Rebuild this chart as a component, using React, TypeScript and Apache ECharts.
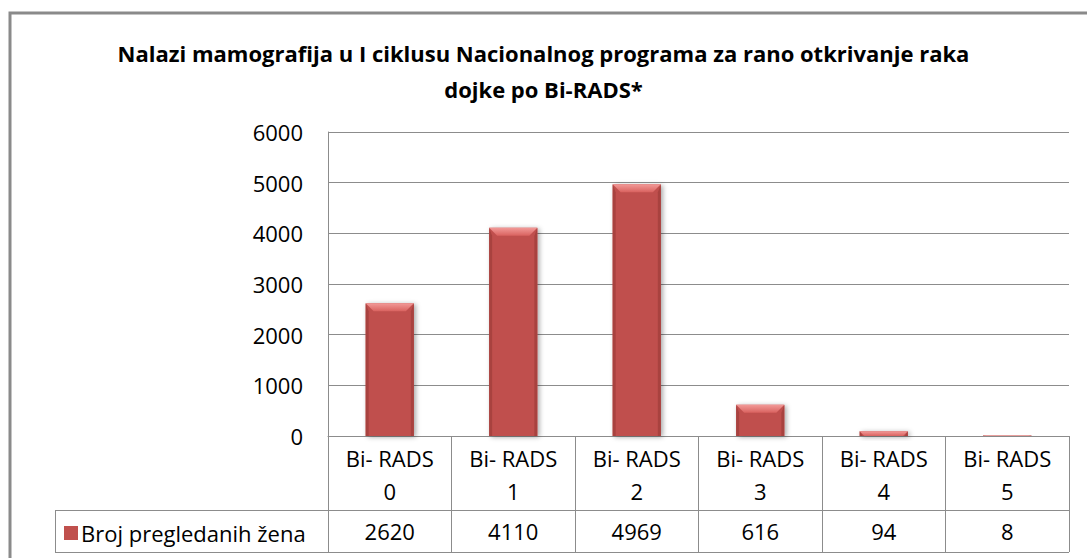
import React, { useEffect, useRef } from "react";
import * as echarts from "echarts";

const titleText = "Nalazi mamografija u I ciklusu Nacionalnog programa za rano otkrivanje raka\ndojke po Bi-RADS*";
const categories = ["Bi- RADS\n0", "Bi- RADS\n1", "Bi- RADS\n2", "Bi- RADS\n3", "Bi- RADS\n4", "Bi- RADS\n5"];
const seriesName = "Broj pregledanih žena";
const values = [2620, 4110, 4969, 616, 94, 8];
const yTicks = [0, 1000, 2000, 3000, 4000, 5000, 6000];

const FONT = "'Open Sans', 'Noto Sans', sans-serif";
const LINE = "#8c8c8c";
const BAR = "#C0504D";

export default function App() {
  const ref = useRef<HTMLDivElement>(null);
  useEffect(() => {
    if (!ref.current) return;
    const chart = echarts.init(ref.current, null, { renderer: "svg" });
    const W = 1087;
    const H = 558;
    const gridLeft = 328;
    const gridRight = 18;
    const gridTop = 132;
    const gridBottom = 122;
    const axisY = H - gridBottom; // 436
    const row2Y = 510;
    const tableBottom = 552;
    const legendLeft = 55;

    const renderItem = (params: any, api: any) => {
      const idx = api.value(0);
      const val = api.value(1);
      const top = api.coord([idx, val]);
      const base = api.coord([idx, 0]);
      const bw = api.size([1, 0])[0] * 0.39;
      const l = top[0] - bw / 2;
      const r = top[0] + bw / 2;
      const t = top[1];
      const b = base[1];
      const h = Math.max(b - t, 0);
      const bev = Math.min(8, h);
      const side = Math.min(3, bw / 2);
      return {
        type: "group",
        children: [
          {
            type: "rect",
            shape: { x: l, y: t, width: bw, height: h },
            style: {
              fill: BAR,
              shadowBlur: 5,
              shadowOffsetX: 2,
              shadowOffsetY: 1,
              shadowColor: "rgba(0,0,0,0.35)",
            },
          },
          {
            type: "polygon",
            shape: { points: [[l, t], [l + side, t + bev], [l + side, b], [l, b]] },
            style: { fill: "#A8423F" },
          },
          {
            type: "polygon",
            shape: { points: [[r, t], [r - side, t + bev], [r - side, b], [r, b]] },
            style: { fill: "#A8423F" },
          },
          {
            type: "polygon",
            shape: { points: [[l, t], [r, t], [r - bev, t + bev], [l + bev, t + bev]] },
            style: {
              fill: new echarts.graphic.LinearGradient(0, 0, 0, 1, [
                { offset: 0, color: "#F29A98" },
                { offset: 1, color: "#D9625F" },
              ]),
            },
          },
        ],
      };
    };

    chart.setOption({
      animation: false,
      color: [BAR],
      textStyle: { fontFamily: FONT },
      title: {
        text: titleText,
        left: "center",
        top: 30,
        textStyle: {
          fontFamily: FONT,
          fontWeight: "bold",
          fontSize: 22,
          lineHeight: 36,
          color: "#000",
        },
      },
      grid: { left: gridLeft, right: gridRight, top: gridTop, bottom: gridBottom, containLabel: false },
      legend: {
        left: 64,
        top: 522,
        padding: 0,
        itemWidth: 14,
        itemHeight: 14,
        itemGap: 8,
        icon: "rect",
        selectedMode: false,
        data: [seriesName],
        textStyle: { fontFamily: FONT, fontSize: 22, color: "#000", padding: [0, 0, 0, -2] },
      },
      xAxis: [
        {
          type: "category",
          data: categories,
          position: "bottom",
          boundaryGap: true,
          axisLine: { show: true, lineStyle: { color: LINE, width: 1 } },
          axisTick: { show: true, interval: 0, alignWithLabel: false, length: tableBottom - axisY, lineStyle: { color: LINE } },
          axisLabel: {
            interval: 0,
            margin: 5,
            fontFamily: FONT,
            fontSize: 22,
            lineHeight: 33,
            color: "#000",
            align: "center",
          },
          splitLine: { show: false },
        },
        {
          type: "category",
          data: values.map((v) => String(v)),
          position: "bottom",
          offset: row2Y - axisY,
          boundaryGap: true,
          axisLine: { show: true, lineStyle: { color: LINE, width: 1 } },
          axisTick: { show: true, interval: 0, alignWithLabel: false, length: tableBottom - row2Y, lineStyle: { color: LINE } },
          axisLabel: {
            interval: 0,
            margin: 9,
            fontFamily: FONT,
            fontSize: 22,
            lineHeight: 24,
            color: "#000",
          },
          splitLine: { show: false },
        },
      ],
      yAxis: {
        type: "value",
        min: yTicks[0],
        max: yTicks[yTicks.length - 1],
        interval: 1000,
        axisLine: { show: true, lineStyle: { color: LINE, width: 1 } },
        axisTick: { show: false },
        axisLabel: {
          margin: 25,
          fontFamily: FONT,
          fontSize: 22,
          color: "#000",
          formatter: (v: number) => String(v),
        },
        splitLine: { show: true, lineStyle: { color: LINE, width: 1 } },
      },
      series: [
        {
          name: seriesName,
          type: "custom",
          xAxisIndex: 0,
          yAxisIndex: 0,
          renderItem,
          encode: { x: 0, y: 1 },
          itemStyle: { color: BAR },
          data: values.map((v, i) => [i, v]),
          z: 3,
        },
      ],
      graphic: [
        {
          type: "rect",
          shape: { x: 10, y: 13, width: W + 40, height: H + 40 },
          style: { fill: "none", stroke: "#8a8a8a", lineWidth: 3 },
          silent: true,
        },
        {
          type: "line",
          shape: { x1: legendLeft, y1: row2Y + 0.5, x2: gridLeft, y2: row2Y + 0.5 },
          style: { stroke: LINE, lineWidth: 1 },
          silent: true,
        },
        {
          type: "line",
          shape: { x1: legendLeft, y1: tableBottom + 0.5, x2: W - gridRight, y2: tableBottom + 0.5 },
          style: { stroke: LINE, lineWidth: 1 },
          silent: true,
        },
        {
          type: "line",
          shape: { x1: legendLeft + 0.5, y1: row2Y, x2: legendLeft + 0.5, y2: tableBottom },
          style: { stroke: LINE, lineWidth: 1 },
          silent: true,
        },
      ],
    });
    return () => chart.dispose();
  }, []);
  return <div ref={ref} style={{ position: "fixed", left: 0, top: 0, width: 1087, height: 558, background: "#fff" }} />;
}
